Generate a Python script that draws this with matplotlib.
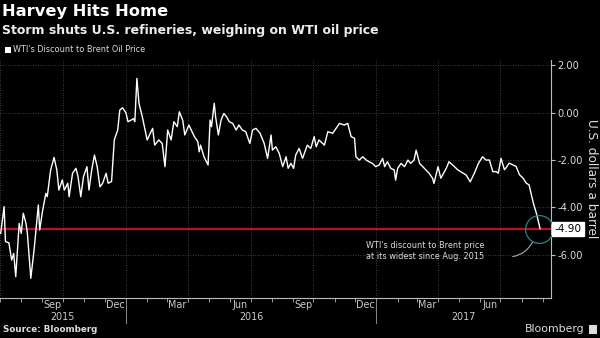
import matplotlib
matplotlib.use("Agg")
import matplotlib.pyplot as plt
import matplotlib.dates as mdates
import matplotlib.transforms as mtransforms
from matplotlib.patches import Rectangle
import pandas as pd

# WTI discount to Brent, US$ per barrel
dates = [
    "2015-07-02", "2015-07-07", "2015-07-09", "2015-07-14", "2015-07-18", "2015-07-21",
    "2015-07-24", "2015-07-29", "2015-08-01", "2015-08-04", "2015-08-08", "2015-08-10",
    "2015-08-15", "2015-08-20", "2015-08-26", "2015-08-28", "2015-09-01", "2015-09-06",
    "2015-09-08", "2015-09-13", "2015-09-18", "2015-09-22", "2015-09-25", "2015-09-30",
    "2015-10-03", "2015-10-08", "2015-10-10", "2015-10-15", "2015-10-20", "2015-10-23",
    "2015-10-27", "2015-10-31", "2015-11-05", "2015-11-08", "2015-11-12", "2015-11-16",
    "2015-11-20", "2015-11-24", "2015-11-28", "2015-12-03", "2015-12-06", "2015-12-11",
    "2015-12-15", "2015-12-20", "2015-12-23", "2015-12-27", "2016-01-01", "2016-01-04",
    "2016-01-08", "2016-01-12", "2016-01-14", "2016-01-17", "2016-01-20", "2016-01-25",
    "2016-01-29", "2016-02-01", "2016-02-09", "2016-02-12", "2016-02-18", "2016-02-23",
    "2016-02-27", "2016-03-02", "2016-03-07", "2016-03-11", "2016-03-16", "2016-03-19",
    "2016-03-24", "2016-03-27", "2016-04-02", "2016-04-10", "2016-04-15", "2016-04-17",
    "2016-04-19", "2016-04-24", "2016-04-30", "2016-05-03", "2016-05-05", "2016-05-09",
    "2016-05-11", "2016-05-15", "2016-05-19", "2016-05-23", "2016-05-27", "2016-05-31",
    "2016-06-05", "2016-06-10", "2016-06-14", "2016-06-19", "2016-06-24", "2016-06-30",
    "2016-07-04", "2016-07-09", "2016-07-15", "2016-07-21", "2016-07-26", "2016-07-31",
    "2016-08-02", "2016-08-07", "2016-08-12", "2016-08-17", "2016-08-22", "2016-08-25",
    "2016-08-29", "2016-09-02", "2016-09-05", "2016-09-10", "2016-09-15", "2016-09-22",
    "2016-09-27", "2016-10-02", "2016-10-05", "2016-10-09", "2016-10-17", "2016-10-22",
    "2016-10-29", "2016-11-08", "2016-11-15", "2016-11-20", "2016-11-25", "2016-11-30",
    "2016-12-02", "2016-12-07", "2016-12-12", "2016-12-17", "2016-12-21", "2016-12-26",
    "2016-12-31", "2017-01-05", "2017-01-10", "2017-01-13", "2017-01-17", "2017-01-22",
    "2017-01-27", "2017-01-29", "2017-02-01", "2017-02-06", "2017-02-11", "2017-02-16",
    "2017-02-20", "2017-02-25", "2017-02-28", "2017-03-05", "2017-03-12", "2017-03-19",
    "2017-03-24", "2017-03-26", "2017-04-01", "2017-04-05", "2017-04-13", "2017-04-17",
    "2017-04-25", "2017-04-30", "2017-05-04", "2017-05-12", "2017-05-18", "2017-05-24",
    "2017-05-30", "2017-06-05", "2017-06-10", "2017-06-15", "2017-06-20", "2017-06-25",
    "2017-06-28", "2017-07-02", "2017-07-07", "2017-07-09", "2017-07-14", "2017-07-19",
    "2017-07-24", "2017-07-29", "2017-08-03", "2017-08-08", "2017-08-12", "2017-08-16",
    "2017-08-19", "2017-08-22", "2017-08-24", "2017-08-28",
]
spread = [
    -5.10, -3.97, -5.45, -5.50, -6.23, -5.95,
    -6.93, -4.68, -5.10, -4.25, -4.68, -5.10,
    -7.00, -5.74, -3.90, -4.96, -4.18, -3.41,
    -3.55, -2.42, -1.89, -2.42, -3.27, -2.84,
    -3.27, -2.98, -3.55, -2.56, -2.35, -2.70,
    -3.55, -2.70, -2.28, -3.27, -2.42, -1.79,
    -2.28, -3.13, -2.98, -2.56, -2.98, -2.91,
    -1.15, -0.73, 0.11, 0.21, 0.00, -0.38,
    -0.32, -0.25, -0.38, 1.45, 0.40, -0.18,
    -0.73, -1.15, -0.66, -1.37, -1.15, -1.30,
    -2.28, -0.73, -1.15, -0.38, -0.59, 0.04,
    -0.32, -0.94, -0.52, -1.01, -1.22, -1.65,
    -1.37, -1.86, -2.21, -0.31, -0.59, 0.40,
    -0.17, -0.94, -0.31, -0.03, -0.17, -0.38,
    -0.45, -0.73, -0.52, -0.73, -0.80, -1.30,
    -0.73, -0.66, -0.87, -1.30, -1.93, -0.94,
    -1.58, -1.44, -1.72, -2.28, -1.86, -2.35,
    -2.14, -2.35, -1.79, -1.51, -1.93, -1.37,
    -1.51, -1.01, -1.44, -1.15, -1.37, -0.80,
    -0.87, -0.45, -0.52, -0.45, -1.01, -1.08,
    -1.86, -2.00, -1.86, -2.00, -2.07, -2.14,
    -2.28, -2.21, -1.93, -2.28, -2.07, -2.35,
    -2.42, -2.85, -2.35, -2.14, -2.28, -2.00,
    -2.14, -2.00, -1.58, -2.14, -2.35, -2.56,
    -2.77, -2.99, -2.28, -2.77, -2.35, -2.07,
    -2.28, -2.42, -2.49, -2.63, -2.92, -2.56,
    -2.14, -1.86, -2.00, -2.00, -2.49, -2.49,
    -2.56, -1.93, -2.41, -2.34, -2.13, -2.20,
    -2.27, -2.62, -2.76, -2.98, -3.05, -3.55,
    -3.90, -4.18, -4.40, -4.90,
]

yticks = [2, 0, -2, -4, -6]
month_labels = ["Sep", "Dec", "Mar", "Jun", "Sep", "Dec", "Mar", "Jun"]
month_label_dates = ["2015-09-16", "2015-12-16", "2016-03-16", "2016-06-16",
                     "2016-09-16", "2016-12-16", "2017-03-16", "2017-06-16"]
years = ["2015", "2016", "2017"]
year_starts = ["2016-01-01", "2017-01-01"]

plt.rcParams["font.family"] = ["DejaVu Sans"]

x = pd.to_datetime(dates)
latest = spread[-1]
xmin, xmax = pd.Timestamp("2015-07-01"), pd.Timestamp("2017-09-13")

fig = plt.figure(figsize=(6, 3.38), dpi=100, facecolor="black")
ax = fig.add_axes([0.0, 0.1192, 0.9183, 0.7047], facecolor="black")

ax.plot(x, spread, color="white", lw=1.0, zorder=3)
ax.axhline(latest, color="#b8102a", lw=1.6, zorder=2)

ax.set_xlim(xmin, xmax)
ax.set_ylim(-7.82, 2.25)

# spines: only bottom and right
for side in ["top", "left"]:
    ax.spines[side].set_visible(False)
for side in ["bottom", "right"]:
    ax.spines[side].set_color("#bbbbbb")
    ax.spines[side].set_linewidth(0.8)

ax.yaxis.tick_right()
ax.set_yticks(yticks)
ax.set_yticklabels([f"{v:.2f}" for v in yticks])
ax.tick_params(axis="y", colors="#bbbbbb", labelcolor="#dddddd", labelsize=7.1,
               length=3, width=0.8, pad=1.5)
ax.yaxis.grid(True, color="#555555", linestyle=(0, (1, 2)), lw=0.6)

# month ticks, quarter gridlines
ax.xaxis.set_major_locator(mdates.MonthLocator(bymonth=[1, 4, 7, 10]))
ax.xaxis.set_minor_locator(mdates.MonthLocator())
ax.xaxis.set_major_formatter(plt.NullFormatter())
ax.tick_params(axis="x", which="both", colors="#999999", length=3, width=0.7)
ax.xaxis.grid(True, which="major", color="#555555", linestyle=(0, (1, 2)), lw=0.6)

trans = mtransforms.blended_transform_factory(ax.transData, ax.transAxes)
for lab, d in zip(month_labels, month_label_dates):
    ax.text(pd.Timestamp(d), -0.031, lab, transform=trans, ha="center", va="center",
            color="#cccccc", fontsize=6.9)

bounds = [xmin] + [pd.Timestamp(d) for d in year_starts] + [xmax]
for i, yr in enumerate(years):
    mid = bounds[i] + (bounds[i + 1] - bounds[i]) / 2
    ax.text(mid, -0.081, yr, transform=trans, ha="center", va="center",
            color="#cccccc", fontsize=6.9)
for d in year_starts:
    ax.plot([pd.Timestamp(d)] * 2, [0, -0.106], transform=trans, color="#888888",
            lw=0.7, clip_on=False)

ax.set_ylabel("U.S. dollars a barrel", rotation=270, color="#dddddd", fontsize=8.7,
              labelpad=11)
ax.yaxis.set_label_position("right")

# latest value tag
ax.text(1.006, latest, f"{latest:.2f}", transform=ax.get_yaxis_transform(),
        ha="left", va="center", fontsize=7.6, color="black",
        bbox=dict(boxstyle="square,pad=0.2", fc="white", ec="white"), clip_on=False)

# callout circle and note
ax.plot(pd.Timestamp("2017-08-26"), latest, marker="o", ms=20, mfc="none",
        mec="#1f8a8a", mew=0.9, zorder=4)
ax.annotate("", xy=(pd.Timestamp("2017-08-19"), -5.34),
            xytext=(pd.Timestamp("2017-07-15"), -6.10),
            arrowprops=dict(arrowstyle="-", color="#aaaaaa", lw=0.8,
                            connectionstyle="arc3,rad=0.3"))
ax.text(pd.Timestamp("2017-06-07"), -5.85,
        "WTI's discount to Brent price\nat its widest since Aug. 2015",
        ha="right", va="center", color="#dddddd", fontsize=5.9, linespacing=1.35)

# header
fig.text(0.003, 0.965, "Harvey Hits Home", color="white", fontsize=11.7,
         fontweight="bold", va="center")
fig.text(0.003, 0.909, "Storm shuts U.S. refineries, weighing on WTI oil price",
         color="#eeeeee", fontsize=9.0, fontweight="bold", va="center")
fig.patches.append(Rectangle((5 / 600, 1 - 52.5 / 338), 5.5 / 600, 5.5 / 338,
                             transform=fig.transFigure, fc="white", ec="none"))
fig.text(13 / 600, 1 - 50 / 338, "WTI's Discount to Brent Oil Price", color="#dddddd",
         fontsize=5.9, va="center")

# footer
fig.text(0.005, 1 - 330 / 338, "Source: Bloomberg", color="#dddddd", fontsize=6.3,
         fontweight="bold", va="center")
fig.text(584 / 600, 1 - 329 / 338, "Bloomberg", color="#dddddd", fontsize=7.8,
         ha="right", va="center")
fig.patches.append(Rectangle((589 / 600, 1 - 334 / 338), 8 / 600, 9 / 338,
                             transform=fig.transFigure, fc="#dddddd", ec="none"))

fig.savefig("out.png", dpi=100, facecolor="black")
